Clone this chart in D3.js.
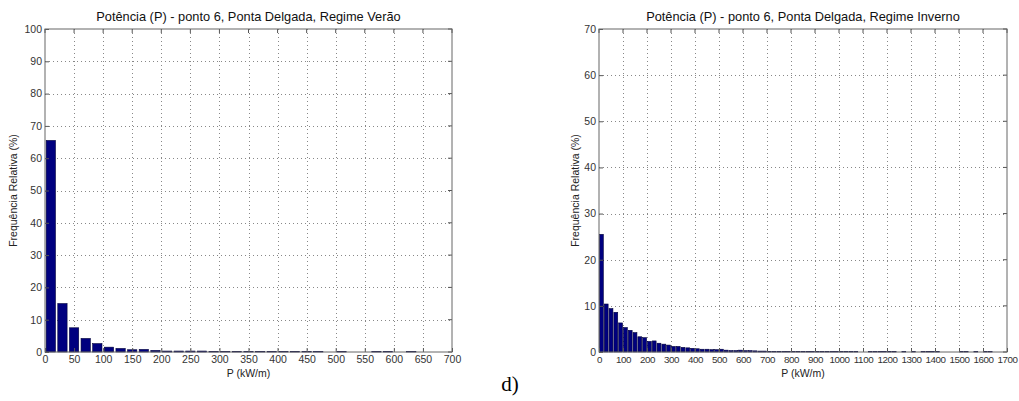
<!DOCTYPE html>
<html><head><meta charset="utf-8">
<script src="https://cdn.jsdelivr.net/npm/d3@7"></script>
<style>body{margin:0;background:#fff}svg{display:block}text{font-family:"Liberation Sans",Arial,sans-serif}</style>
</head><body>
<svg id="c" width="1019" height="401"></svg>
<script>
// Bin centres (kW/m), bin width 20
const binWidth = 20;
const veraoCenters = [10,30,50,70,90,110,130,150,170,190,210,230,250,270,290,310,330,350,370,390,410,430,450,470,510,570,590,630];
const veraoValues  = [65.5,15,7.5,4.2,2.6,1.5,1.1,0.7,0.8,0.5,0.3,0.3,0.3,0.3,0.2,0.15,0.15,0.15,0.15,0.15,0.15,0.15,0.15,0.15,0.15,0.1,0.12,0.1];
const invernoCenters = [10,30,50,70,90,110,130,150,170,190,210,230,250,270,290,310,330,350,370,390,410,430,450,470,490,510,530,550,570,590,610,630,650,670,690,
  710,730,750,770,790,810,830,850,870,890,910,930,950,970,990,1010,1030,1050,1070,1130,1150,1170,1190,1210,1230,1270,1310,1350,1370,1390,1410,1510,1530,1570,1610,1630];
const invernoValues = [25.5,10.4,9.4,8.6,6.3,5.3,4.7,4.2,3.3,3.1,2.3,2.4,1.9,1.7,1.5,1.2,1.2,1.0,0.9,0.8,0.7,0.6,0.6,0.5,0.5,0.6,0.4,0.3,0.3,0.4,0.3,0.3,0.25,0.2,0.2,
  0.1,0.1,0.1,0.1,0.1,0.1,0.1,0.1,0.1,0.1,0.1,0.1,0.1,0.1,0.1,0.1,0.1,0.1,0.1,0.1,0.1,0.1,0.15,0.15,0.15,0.1,0.1,0.1,0.15,0.15,0.1,0.1,0.1,0.1,0.1,0.1];
const veraoXTicks = d3.range(0,701,50);
const veraoYTicks = d3.range(0,101,10);
const invernoXTicks = d3.range(0,1701,100);
const invernoYTicks = d3.range(0,71,10);
const titles = ["Potência (P) - ponto 6, Ponta Delgada, Regime Verão","Potência (P) - ponto 6, Ponta Delgada, Regime Inverno"];
const xLabel = "P (kW/m)";
const yLabel = "Frequência Relativa (%)";

const svg = d3.select("#c");

function panel(o){
  const x = d3.scaleLinear().domain(o.xd).range([o.x0,o.x1]);
  const y = d3.scaleLinear().domain(o.yd).range([o.y1,o.y0]);
  const g = svg.append("g");
  // grid
  g.selectAll(".gx").data(o.xt.slice(1,-1)).join("line")
    .attr("x1",d=>Math.round(x(d))+0.5).attr("x2",d=>Math.round(x(d))+0.5).attr("y1",o.y0).attr("y2",o.y1)
    .attr("stroke","#888").attr("stroke-width",1).attr("stroke-dasharray","1,3");
  g.selectAll(".gy").data(o.yt.slice(1,-1)).join("line")
    .attr("y1",d=>Math.round(y(d))+0.5).attr("y2",d=>Math.round(y(d))+0.5).attr("x1",o.x0).attr("x2",o.x1)
    .attr("stroke","#888").attr("stroke-width",1).attr("stroke-dasharray","1,3");
  // bars
  const bw = binWidth*0.8;
  g.selectAll(".b").data(o.c.map((c,i)=>({c,v:o.v[i]}))).join("rect")
    .attr("x",d=>x(d.c-bw/2)).attr("width",d=>x(d.c+bw/2)-x(d.c-bw/2))
    .attr("y",d=>y(d.v)).attr("height",d=>y(0)-y(d.v))
    .attr("fill","#00007f").attr("stroke","#00003a").attr("stroke-width",0.6);
  // axes
  const ax = g.append("g").attr("transform",`translate(0,${o.y1})`)
    .call(d3.axisBottom(x).tickValues(o.xt).tickSize(-4).tickPadding(4).tickFormat(d3.format("d")));
  const ay = g.append("g").attr("transform",`translate(${o.x0},0)`)
    .call(d3.axisLeft(y).tickValues(o.yt).tickSize(-4).tickPadding(3).tickFormat(d3.format("d")));
  [ax,ay].forEach(a=>{
    a.select(".domain").remove();
    a.selectAll("line").attr("stroke","#555");
    a.selectAll("text").attr("fill","#333").style("font-size","10.5px");
  });
  if (o.xfs) ax.selectAll("text").style("font-size",o.xfs).style("letter-spacing",o.xls);
  // top/right ticks
  g.selectAll(".tt").data(o.xt).join("line").attr("x1",d=>x(d)).attr("x2",d=>x(d)).attr("y1",o.y0).attr("y2",o.y0+4).attr("stroke","#555");
  g.selectAll(".rt").data(o.yt).join("line").attr("y1",d=>y(d)).attr("y2",d=>y(d)).attr("x1",o.x1).attr("x2",o.x1-4).attr("stroke","#555");
  g.append("rect").attr("x",o.x0).attr("y",o.y0).attr("width",o.x1-o.x0).attr("height",o.y1-o.y0)
    .attr("fill","none").attr("stroke","#666").attr("stroke-width",1);
  g.append("text").attr("x",(o.x0+o.x1)/2).attr("y",21).attr("text-anchor","middle")
    .style("font-size","12.8px").attr("fill","#111").text(o.title);
  g.append("text").attr("x",(o.x0+o.x1)/2).attr("y",377).attr("text-anchor","middle")
    .style("font-size","10.5px").attr("fill","#222").text(xLabel);
  g.append("text").attr("transform",`translate(${o.yl},${(o.y0+o.y1)/2}) rotate(-90)`).attr("text-anchor","middle")
    .style("font-size","10.5px").attr("fill","#222").text(yLabel);
}

panel({x0:45,x1:452,y0:29,y1:352,xd:[0,700],yd:[0,100],xt:veraoXTicks,yt:veraoYTicks,c:veraoCenters,v:veraoValues,title:titles[0],yl:17});
panel({x0:599,x1:1007,y0:29,y1:352,xd:[0,1700],yd:[0,70],xt:invernoXTicks,yt:invernoYTicks,c:invernoCenters,v:invernoValues,title:titles[1],yl:579,xfs:"9.8px",xls:"-0.4px"});

svg.append("text").attr("x",510).attr("y",391).attr("text-anchor","middle")
  .style("font-family","'Liberation Serif','Times New Roman',serif").style("font-size","21px").attr("fill","#000").text("d)");
</script>
</body></html>
